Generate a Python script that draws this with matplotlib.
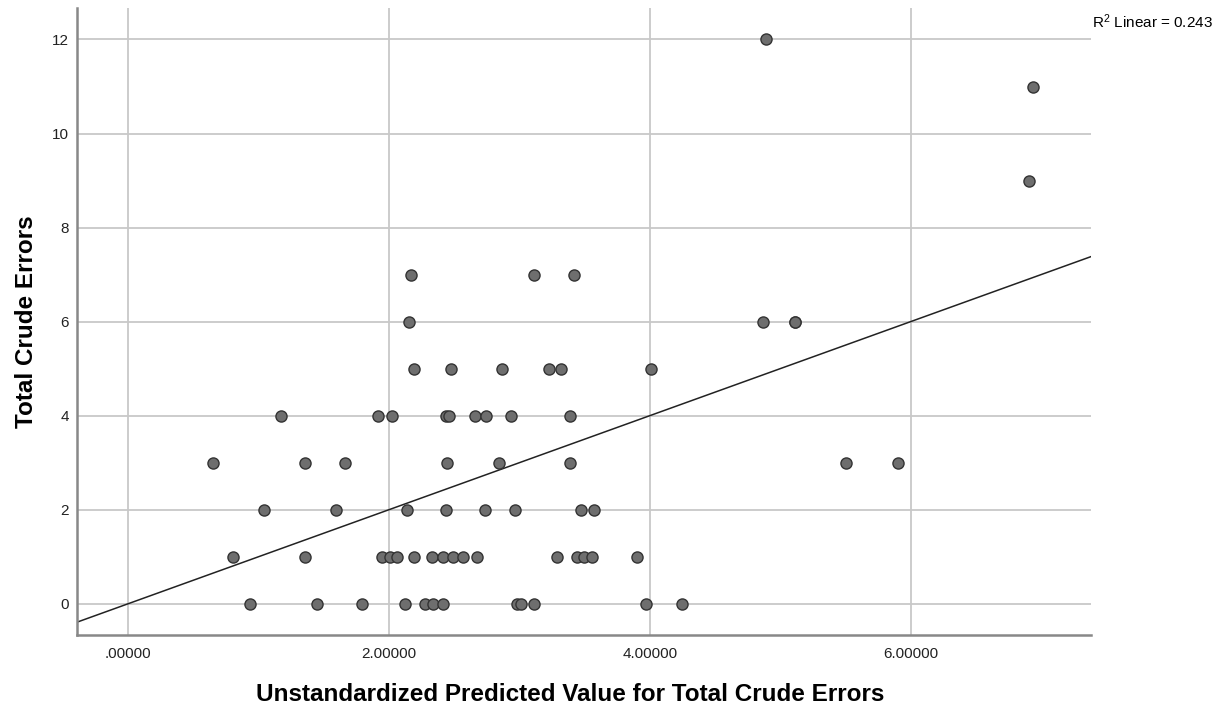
import numpy as np
import matplotlib
matplotlib.use("Agg")
import matplotlib.pyplot as plt

plt.rcParams['font.family'] = ['Liberation Sans', 'DejaVu Sans']
plt.rcParams['mathtext.fontset'] = 'custom'
plt.rcParams['mathtext.rm'] = 'Liberation Sans'
plt.rcParams['mathtext.it'] = 'Liberation Sans'

# predicted values (x) and observed total crude errors (y)
predicted = [
    0.650, 0.803, 0.933, 1.043, 1.171, 1.352, 1.357, 1.447, 1.590, 1.659,
    1.790, 1.917, 1.946, 2.007, 2.020, 2.063, 2.122, 2.135, 2.153, 2.168,
    2.188, 2.191, 2.275, 2.326, 2.339, 2.411, 2.416, 2.434, 2.436, 2.447,
    2.462, 2.472, 2.488, 2.569, 2.659, 2.672, 2.738, 2.743, 2.840, 2.868,
    2.932, 2.968, 2.978, 3.011, 3.111, 3.113, 3.229, 3.288, 3.321, 3.385,
    3.387, 3.420, 3.443, 3.474, 3.495, 3.558, 3.571, 3.901, 3.972, 4.008,
    4.248, 4.865, 4.890, 5.110, 5.116, 5.501, 5.902, 6.907, 6.940,
]
observed = [
    3, 1, 0, 2, 4, 1, 3, 0, 2, 3,
    0, 4, 1, 1, 4, 1, 0, 2, 6, 7,
    1, 5, 0, 1, 0, 0, 1, 2, 4, 3,
    4, 5, 1, 1, 4, 1, 2, 4, 3, 5,
    4, 2, 0, 0, 0, 7, 5, 1, 5, 3,
    4, 7, 1, 2, 1, 1, 2, 1, 0, 5,
    0, 6, 12, 6, 6, 3, 3, 9, 11,
]
fit_slope = 1.0
fit_intercept = 0.0
r2_text = r"R$^{2}$ Linear = 0.243"

x_ticks = [0, 2, 4, 6]
x_ticklabels = [".00000", "2.00000", "4.00000", "6.00000"]
y_ticks = [0, 2, 4, 6, 8, 10, 12]

fig = plt.figure(figsize=(12.29, 7.13), dpi=100)
ax = fig.add_axes([0.0629, 0.1094, 0.8246, 0.8794])

xmin, xmax = -0.391, 7.38
ax.set_xlim(xmin, xmax)
ax.set_ylim(-0.666, 12.67)

ax.set_xticks(x_ticks)
ax.set_xticklabels(x_ticklabels)
ax.set_yticks(y_ticks)
ax.grid(True, color='#c8c8c8', linewidth=1.3)
ax.set_axisbelow(True)
ax.tick_params(length=0, labelsize=11, colors='#222222', pad=6)
ax.tick_params(axis='x', pad=8.5)

for s in ['top', 'right']:
    ax.spines[s].set_visible(False)
for s in ['left', 'bottom']:
    ax.spines[s].set_color('#888888')
    ax.spines[s].set_linewidth(1.8)

line_x = np.array([xmin, xmax])
ax.plot(line_x, fit_intercept + fit_slope * line_x, color='#222222', linewidth=1.1, zorder=2)

ax.scatter(predicted, observed, s=64, facecolor='#6e6e6e', edgecolor='#333333',
           linewidth=1.0, zorder=3)

ax.set_xlabel("Unstandardized Predicted Value for Total Crude Errors",
              fontsize=17.5, fontweight='bold')
ax.xaxis.set_label_coords(0.486, -0.077)
ax.set_ylabel("Total Crude Errors", fontsize=17.5, fontweight='bold')
ax.yaxis.set_label_coords(-0.0385, 0.5)

fig.text(1092 / 1229, 1 - 22 / 713, r2_text, fontsize=11, va='center', ha='left')

fig.savefig("out.png", dpi=100)
